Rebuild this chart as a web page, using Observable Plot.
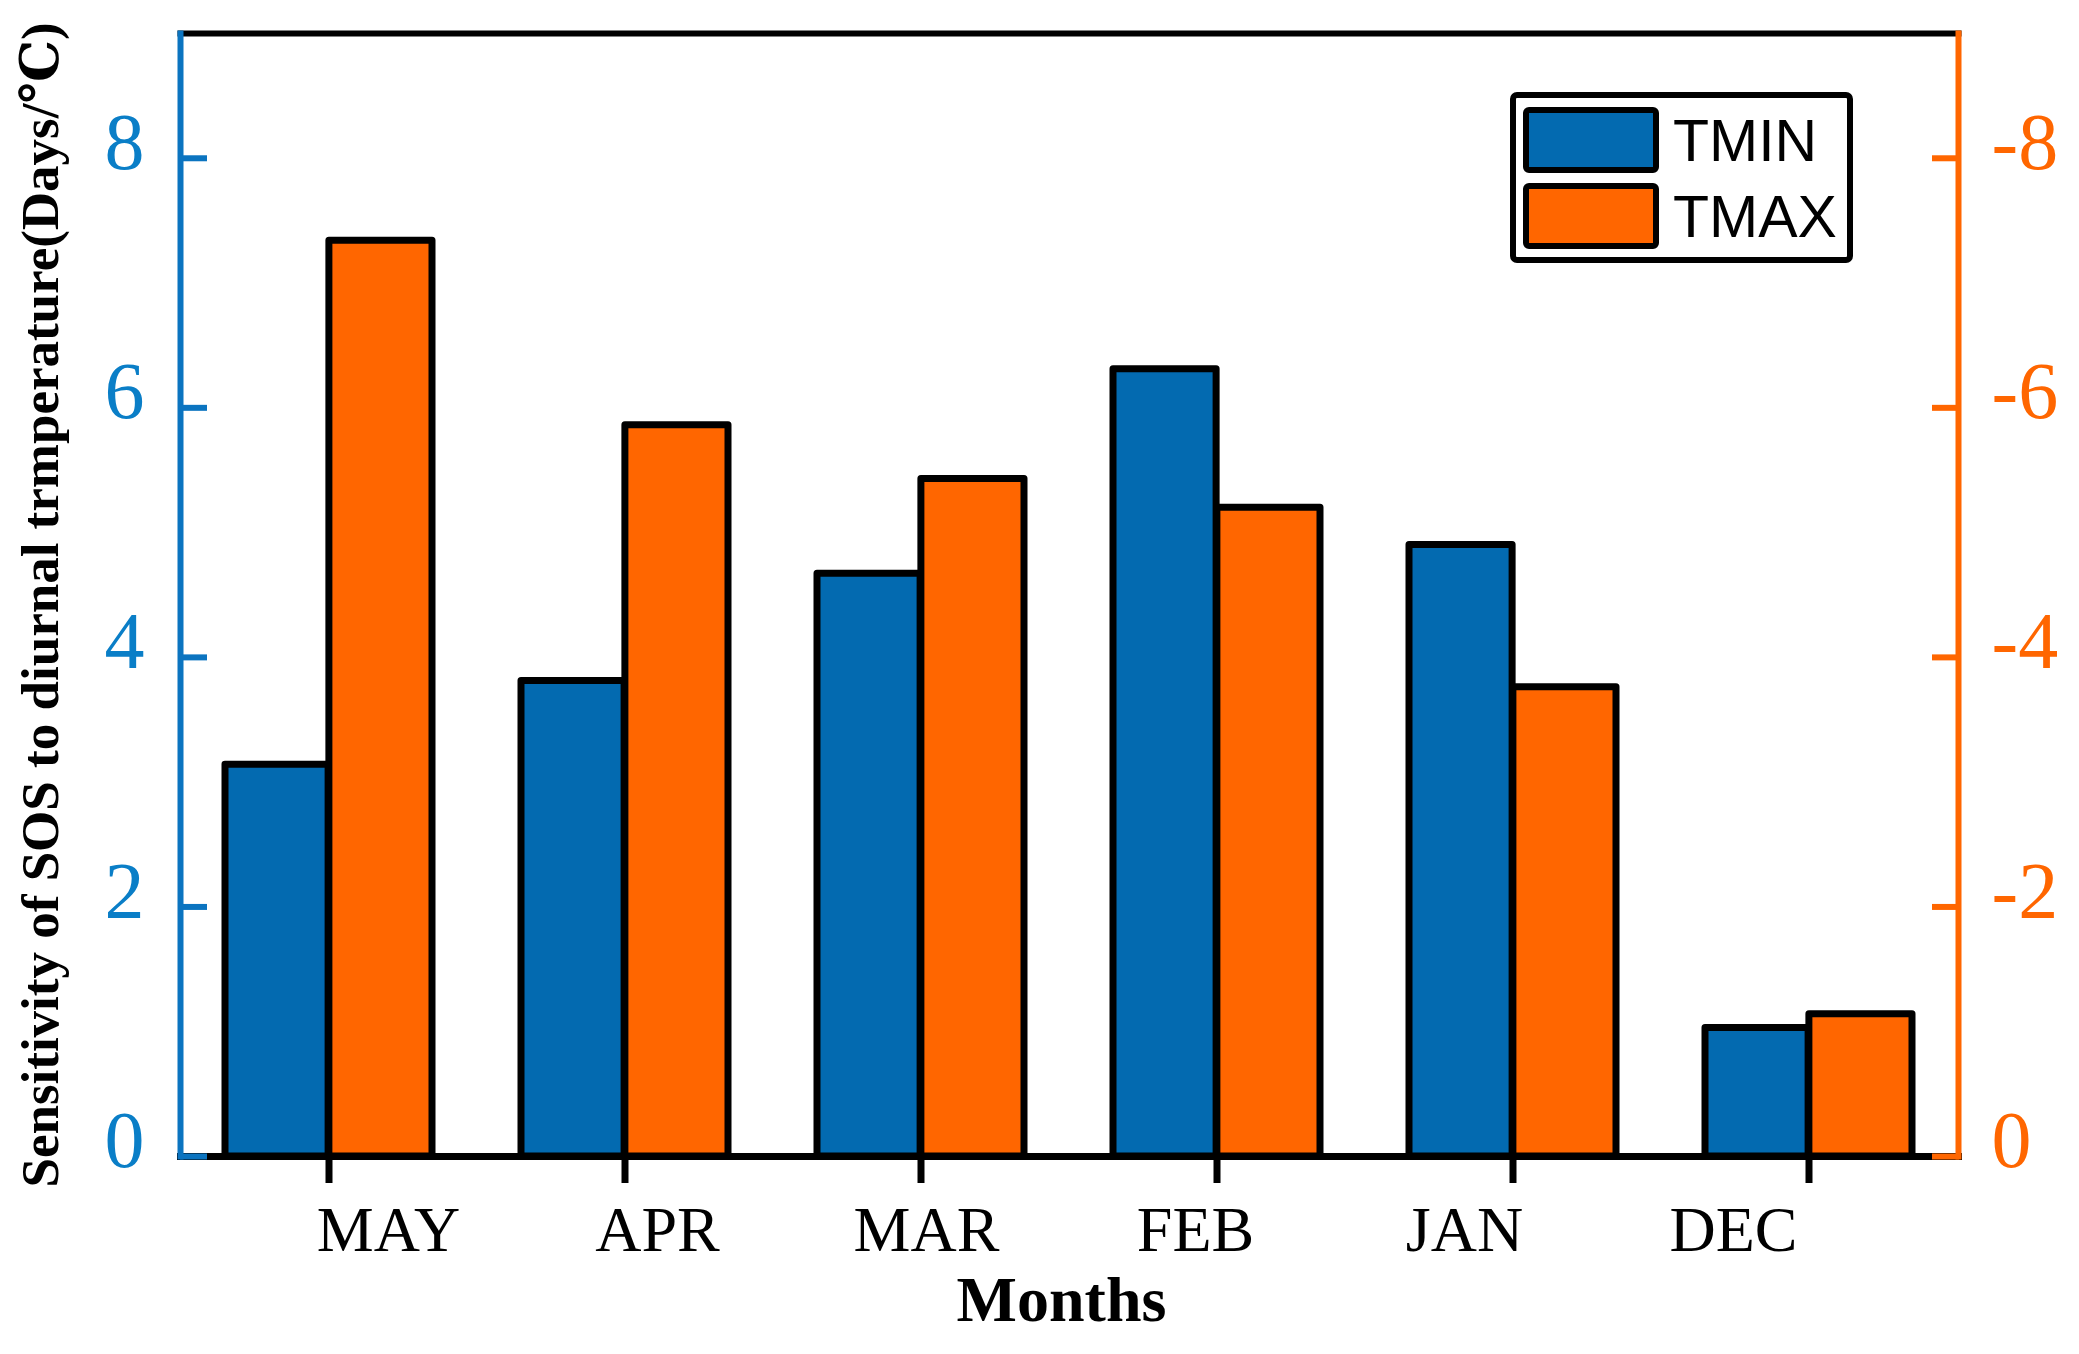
<!DOCTYPE html>
<html><head><meta charset="utf-8">
<script src="https://cdn.jsdelivr.net/npm/d3@7"></script>
<script src="https://cdn.jsdelivr.net/npm/@observablehq/plot@0.6"></script>
<style>body{margin:0;background:#fff} #chart{position:relative;width:2079px;height:1354px}</style>
</head><body><div id="chart"></div>
<script>
// ---- data ----
const months = ["MAY", "APR", "MAR", "FEB", "JAN", "DEC"];
const tmin = [3.14, 3.81, 4.67, 6.31, 4.90, 1.03];          // left axis values
const tmax = [-7.34, -5.86, -5.43, -5.20, -3.76, -1.14];    // right axis values
const leftTicks = [0, 2, 4, 6, 8];
const rightTicks = [0, -2, -4, -6, -8];
const seriesNames = ["TMIN", "TMAX"];
const seriesColors = ["#036AB0", "#FF6600"];
const xTitle = "Months";
const yTitle = "Sensitivity of SOS to diurnal trmperature(Days/℃)";

// ---- layout ----
const W = 2079, H = 1354, mL = 180, mR = 121, mT = 33, mB = 198;
const pIn = 0.3, pOut = 0.145;
const axisBlue = "#0B74C0", labelBlue = "#0A7EC7", axisOrange = "#FF6600";
const xs = d3.scaleBand(months, [mL, W - mR]).paddingInner(pIn).paddingOuter(pOut);
const bw = xs.bandwidth();

const rows = months.map((m, i) => ({month: m, tmin: tmin[i], tmax: tmax[i]}));
const serif = "'Liberation Serif', 'DejaVu Serif', serif";
const rightLabel = d => { const i = rightTicks.findIndex(v => -v === d); return i >= 0 ? String(rightTicks[i]) : ""; };

const plot = Plot.plot({
  width: W, height: H,
  marginLeft: mL, marginRight: mR, marginTop: mT, marginBottom: mB,
  style: {fontFamily: serif, background: "white", overflow: "visible"},
  x: {domain: months, paddingInner: pIn, paddingOuter: pOut},
  y: {domain: [0, 9]},
  marks: [
    Plot.barY(rows, {x: "month", y: "tmin", fill: seriesColors[0], stroke: "black", strokeWidth: 7,
      strokeLinejoin: "round", insetLeft: 0, insetRight: bw / 2}),
    Plot.barY(rows, {x: "month", y: d => -d.tmax, fill: seriesColors[1], stroke: "black", strokeWidth: 7,
      strokeLinejoin: "round", insetLeft: bw / 2, insetRight: 0}),
    Plot.frame({anchor: "top", stroke: "black", strokeWidth: 6}),
    Plot.frame({anchor: "bottom", stroke: "black", strokeWidth: 7}),
    Plot.frame({anchor: "left", stroke: axisBlue, strokeWidth: 6}),
    Plot.frame({anchor: "right", stroke: axisOrange, strokeWidth: 6}),
    // left axis: inward ticks, then labels
    Plot.axisY({anchor: "left", ticks: leftTicks, tickSize: -27, strokeWidth: 6, stroke: axisBlue,
      tickFormat: () => "", label: null}),
    Plot.axisY({anchor: "left", ticks: leftTicks, tickSize: 0, tickPadding: 36, fill: labelBlue,
      fontSize: 80, dy: -15, label: null, tickFormat: d => String(d)}),
    // right axis
    Plot.axisY({anchor: "right", ticks: rightTicks.map(v => -v), tickSize: -27, strokeWidth: 6, stroke: axisOrange,
      tickFormat: () => "", label: null}),
    Plot.axisY({anchor: "right", ticks: rightTicks.map(v => -v), tickSize: 0, tickPadding: 33, fill: axisOrange,
      fontSize: 80, dy: -15, label: null, tickFormat: rightLabel}),
    Plot.axisX({anchor: "bottom", tickSize: 27, tickPadding: 22, strokeWidth: 7, stroke: "black", fill: "black",
      fontSize: 64, label: null}),
    Plot.text([xTitle], {frameAnchor: "bottom", dx: -8, dy: 164, fontSize: 64, fontWeight: "bold", fill: "black"}),
    Plot.text([yTitle], {frameAnchor: "left", rotate: -90, textAnchor: "middle", dx: -139, dy: 10,
      fontSize: 53, fontWeight: "bold", fill: "black"})
  ]
});

document.getElementById("chart").appendChild(plot);

// shift month labels as in the reference (labels slightly compressed toward the center)
const svg = d3.select(plot);
const mid = (xs(months[0]) + xs(months[months.length - 1]) + bw) / 2;
svg.selectAll('g[aria-label="x-axis tick label"] text').each(function(d, i) {
  const c = xs(months[i]) + bw / 2;
  d3.select(this).attr("dx", (mid - c) * 0.091 - 8);
});

// legend inside the plot area
const lg = svg.append("g").attr("transform", "translate(1513,95)");
lg.append("rect").attr("width", 337).attr("height", 165).attr("rx", 4)
  .attr("fill", "white").attr("stroke", "black").attr("stroke-width", 6);
seriesNames.forEach((name, i) => {
  const g = lg.append("g").attr("transform", `translate(13,${15 + i * 76})`);
  g.append("rect").attr("width", 130).attr("height", 60).attr("rx", 3)
    .attr("fill", seriesColors[i]).attr("stroke", "black").attr("stroke-width", 6);
  g.append("text").attr("x", 147).attr("y", 51).text(name).attr("text-anchor", "start")
    .attr("font-family", "'Liberation Sans', Arial, sans-serif").attr("font-size", 59).attr("fill", "black");
});
</script>
</body></html>
